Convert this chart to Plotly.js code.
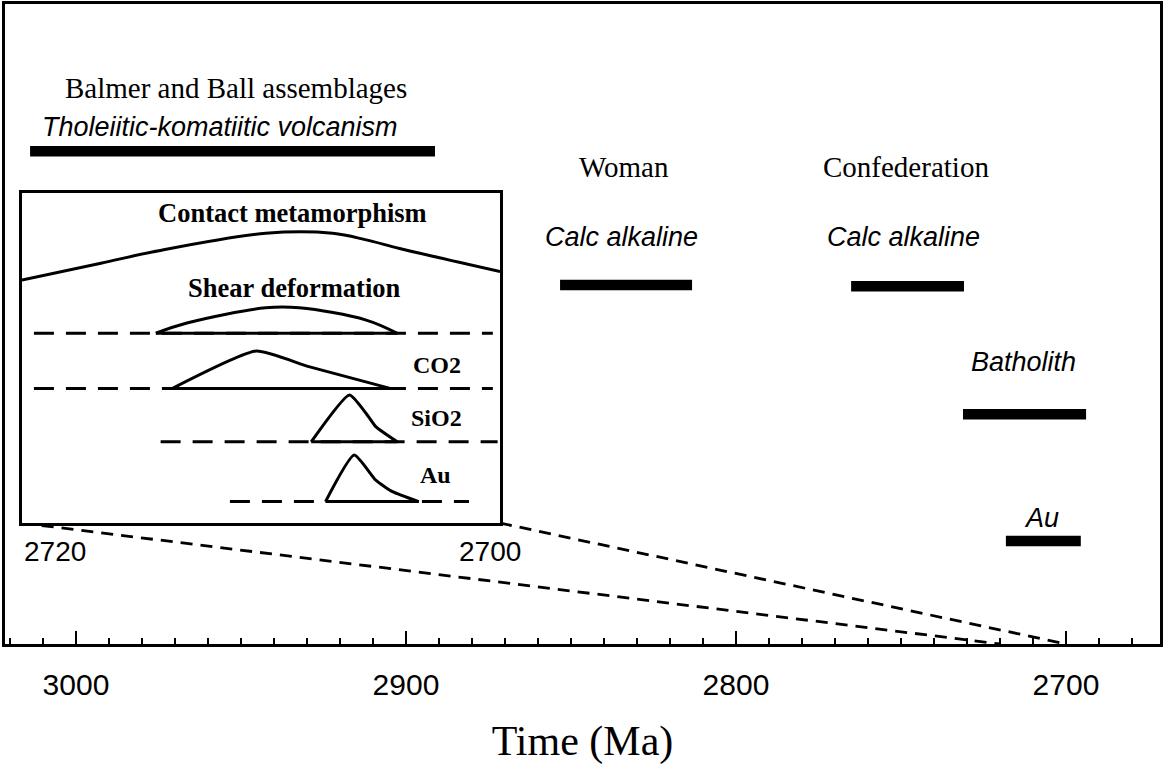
<!DOCTYPE html>
<html><head><meta charset="utf-8">
<script src="https://cdn.plot.ly/plotly-3.0.1.min.js"></script>
<style>html,body{margin:0;padding:0;background:#fff}</style>
</head><body><div id="chart" style="width:1163px;height:778px"></div>
<script>
// ---- main timeline (Ma) ----
const majorTicks = [3000, 2900, 2800, 2700];
const unitNames = ['Balmer and Ball', 'Woman', 'Confederation', 'Batholith', 'Au'];
const unitStartMa = [3013.9, 2853.3, 2765.1, 2731.2, 2718.2];
const unitEndMa = [2891.2, 2813.3, 2730.9, 2693.9, 2695.5];
const unitLevel = [77.0, 56.1, 55.9, 35.9, 16.1];

const nameLabels = ['Balmer and Ball assemblages', 'Woman', 'Confederation'];
const nameLabelMa = [2951.5, 2833.9, 2748.5];
const nameLabelLevel = [86.9, 74.5, 74.5];

const typeLabels = ['Tholeiitic-komatiitic volcanism', 'Calc alkaline', 'Calc alkaline', 'Batholith', 'Au'];
const typeLabelMa = [2956.5, 2834.8, 2749.1, 2713.0, 2707.3];
const typeLabelLevel = [80.8, 63.6, 63.6, 44.1, 19.7];

// zoom connectors (inset corners -> main axis)
const connectorFromMa = [3016.4, 2871.5];
const connectorFromLevel = [18.9, 18.9];
const connectorToMa = [2720, 2700];
const connectorToLevel = [0, 0];

// ---- inset: 2720 - 2700 Ma ----
const insetEdgeLabels = ['2720', '2700'];
const insetEdgeLabelMa = [2720, 2700.4];
const insetEdgeLabelLevel = 14.5; // on the main level scale, just below the inset

const contactMa = [2720.0, 2716.7, 2714.5, 2709.8, 2707.0, 2705.6, 2704.2, 2700.0];
const contactLevel = [73.6, 78.7, 82.2, 87.8, 87.8, 85.8, 83.2, 76.2];

const rowNames = ['Shear deformation', 'CO2', 'SiO2', 'Au'];
const rowBaseline = [57.5, 40.8, 24.6, 6.5];
const rowDashStartMa = [2719.5, 2719.5, 2714.2, 2711.3];
const rowDashEndMa = [2700.3, 2700.3, 2700.1, 2701.3];
const shearMa = [2714.4, 2713.1, 2709.8, 2708.4, 2705.6, 2704.3];
const shearLevel = [57.5, 60.6, 65.2, 65.2, 61.5, 57.5];
const co2Ma = [2713.7, 2710.2, 2708.0, 2704.6];
const co2Level = [40.8, 52.1, 47.4, 40.8];
const sio2Ma = [2707.9, 2706.3, 2705.6, 2705.2, 2704.3];
const sio2Level = [24.6, 38.8, 33.2, 29.2, 24.6];
const auMa = [2707.3, 2706.1, 2705.2, 2704.5, 2703.4];
const auLevel = [6.5, 20.6, 13.0, 9.5, 6.5];
const rowHumpMa = [shearMa, co2Ma, sio2Ma, auMa];
const rowHumpLevel = [shearLevel, co2Level, sio2Level, auLevel];

const insetTitleLabels = ['Contact metamorphism', 'Shear deformation'];
const insetTitleMa = [2708.7, 2708.6];
const insetTitleLevel = [93.9, 71.2];
const insetSpeciesLabels = ['CO2', 'SiO2', 'Au'];
const insetSpeciesMa = [2702.65, 2702.65, 2702.7];
const insetSpeciesLevel = [47.9, 31.8, 14.5];

// ---- build traces ----
const traces = [];
for (let i = 0; i < unitNames.length; i++) {
  traces.push({
    x: [unitStartMa[i], unitEndMa[i]], y: [unitLevel[i], unitLevel[i]],
    mode: 'lines', line: {color: '#000', width: 10.5}, name: unitNames[i],
    xaxis: 'x', yaxis: 'y', hoverinfo: 'name'
  });
}
for (let i = 0; i < connectorFromMa.length; i++) {
  traces.push({
    x: [connectorFromMa[i], connectorToMa[i]], y: [connectorFromLevel[i], connectorToLevel[i]],
    mode: 'lines', line: {color: '#000', width: 2.8, dash: '12px,8px'},
    xaxis: 'x', yaxis: 'y', hoverinfo: 'skip'
  });
}
traces.push({
  x: contactMa, y: contactLevel, mode: 'lines',
  line: {color: '#000', width: 3, shape: 'spline', smoothing: 1},
  name: 'Contact metamorphism', xaxis: 'x2', yaxis: 'y2'
});
for (let i = 0; i < rowNames.length; i++) {
  const hm = rowHumpMa[i];
  // dashed baseline
  traces.push({
    x: [rowDashStartMa[i], rowDashEndMa[i]], y: [rowBaseline[i], rowBaseline[i]],
    mode: 'lines', line: {color: '#000', width: 3, dash: '20px,12px'},
    xaxis: 'x2', yaxis: 'y2', hoverinfo: 'skip'
  });
  // solid baseline under the curve
  traces.push({
    x: [hm[0], hm[hm.length - 1]], y: [rowBaseline[i], rowBaseline[i]],
    mode: 'lines', line: {color: '#000', width: 3},
    xaxis: 'x2', yaxis: 'y2', hoverinfo: 'skip'
  });
  // curve
  traces.push({
    x: hm, y: rowHumpLevel[i], mode: 'lines',
    line: {color: '#000', width: 3, shape: 'spline', smoothing: i === 0 ? 1 : 0.5},
    name: rowNames[i], xaxis: 'x2', yaxis: 'y2'
  });
}

// ---- annotations ----
const serif = 'Liberation Serif, Times New Roman, serif';
const sans = 'Liberation Sans, Arial, sans-serif';
const annotations = [];
nameLabels.forEach((t, i) => annotations.push({
  text: t, x: nameLabelMa[i], y: nameLabelLevel[i], xref: 'x', yref: 'y',
  showarrow: false, font: {family: serif, size: 29, color: '#000'}
}));
typeLabels.forEach((t, i) => annotations.push({
  text: '<i>' + t + '</i>', x: typeLabelMa[i], y: typeLabelLevel[i], xref: 'x', yref: 'y',
  showarrow: false, font: {family: sans, size: 27, color: '#000'}
}));
insetTitleLabels.forEach((t, i) => annotations.push({
  text: '<b>' + t + '</b>', x: insetTitleMa[i], y: insetTitleLevel[i], xref: 'x2', yref: 'y2',
  showarrow: false, font: {family: serif, size: 26.5, color: '#000'}
}));
insetSpeciesLabels.forEach((t, i) => annotations.push({
  text: '<b>' + t + '</b>', x: insetSpeciesMa[i], y: insetSpeciesLevel[i], xref: 'x2', yref: 'y2',
  showarrow: false, font: {family: serif, size: 24, color: '#000'}
}));
insetEdgeLabels.forEach((t, i) => annotations.push({
  text: t, x: insetEdgeLabelMa[i], y: insetEdgeLabelLevel, xref: 'x2', yref: 'y',
  xanchor: i === 0 ? 'left' : 'center',
  showarrow: false, font: {family: sans, size: 28, color: '#000'}
}));

const layout = {
  width: 1163, height: 778,
  margin: {l: 5, r: 3, t: 4, b: 134},
  paper_bgcolor: '#fff', plot_bgcolor: '#fff',
  showlegend: false,
  xaxis: {
    range: [3021.5, 2671.5], tickmode: 'array', tickvals: majorTicks,
    ticktext: majorTicks.map(String),
    ticks: 'inside', ticklen: 13, tickwidth: 2, tickcolor: '#000',
    minor: {tickmode: 'linear', tick0: 2680, dtick: 10, ticks: 'inside', ticklen: 6, tickwidth: 2, tickcolor: '#000'},
    ticklabelstandoff: 12,
    tickfont: {family: sans, size: 30, color: '#000'},
    showline: true, linewidth: 3, linecolor: '#000', mirror: true,
    showgrid: false, zeroline: false,
    title: {text: 'Time (Ma)', font: {family: serif, size: 42, color: '#000'}, standoff: 26}
  },
  yaxis: {
    range: [0, 100], showline: true, linewidth: 3, linecolor: '#000', mirror: true,
    ticks: '', showticklabels: false, showgrid: false, zeroline: false
  },
  xaxis2: {
    domain: [0.0147, 0.4286], anchor: 'y2', range: [2720, 2700],
    showline: true, linewidth: 2.8, linecolor: '#000', mirror: true,
    ticks: '', showticklabels: false, showgrid: false, zeroline: false
  },
  yaxis2: {
    domain: [0.189, 0.7047], anchor: 'x2', range: [0, 100],
    showline: true, linewidth: 2.8, linecolor: '#000', mirror: true,
    ticks: '', showticklabels: false, showgrid: false, zeroline: false
  },
  annotations: annotations
};

Plotly.newPlot('chart', traces, layout, {displayModeBar: false, staticPlot: true});
</script>
</body></html>
